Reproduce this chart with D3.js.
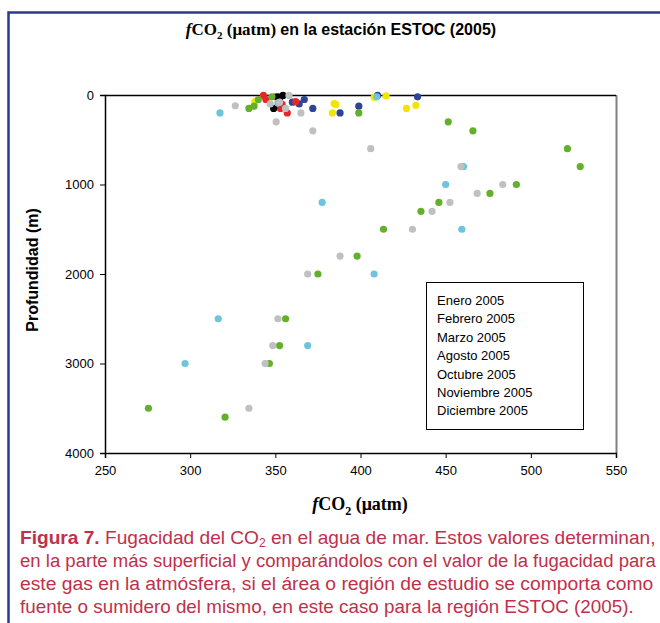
<!DOCTYPE html>
<html>
<head>
<meta charset="utf-8">
<script src="https://cdn.jsdelivr.net/npm/d3@7"></script>
<style>
  body { margin: 0; background: #fff; }
  svg { display: block; }
</style>
</head>
<body>
<script>
var width = 660,
    height = 623;

// months (legend order)
var months = ["Enero 2005", "Febrero 2005", "Marzo 2005", "Agosto 2005", "Octubre 2005", "Noviembre 2005", "Diciembre 2005"];
var colors = ["#2e4597", "#e8262a", "#f4e500", "#000000", "#6cc5dd", "#63b02b", "#c0c0c0"];

// fCO2 (uatm) and depth (m) read per month
var eneroCO2 = [410, 433.5, 367, 360, 364, 372, 388, 399];
var eneroDepth = [5, 20, 50, 80, 100, 150, 200, 125];
var febreroCO2 = [343, 344.5, 350, 362, 354, 353, 357];
var febreroDepth = [5, 50, 20, 75, 105, 150, 200];
var marzoCO2 = [338, 384.5, 385.5, 383.5, 408, 415, 427, 432.5];
var marzoDepth = [75, 95, 105, 200, 25, 10, 150, 115];
var agostoCO2 = [354.5, 351.5, 352.5, 349];
var agostoDepth = [5, 20, 50, 150];
var octubreCO2 = [409.5, 351.5, 317.5, 460.5, 450, 377.5, 459.5, 408, 316.5, 369, 297];
var octubreDepth = [20, 90, 200, 800, 1000, 1200, 1500, 2000, 2500, 2800, 3000];
var noviembreCO2 = [348, 340, 337.5, 334.5, 399, 451.5, 466, 521.5, 529, 491.5, 476, 446, 435.5, 413.5, 398, 375, 356, 352.5, 346.5, 275.5, 320.5];
var noviembreDepth = [20, 50, 125, 150, 200, 300, 400, 600, 800, 1000, 1100, 1200, 1300, 1500, 1800, 2000, 2500, 2800, 3000, 3500, 3600];
var diciembreCO2 = [358, 347, 352.5, 356, 365, 326.5, 350.5, 372, 406, 459, 483.5, 468.5, 452.5, 442, 430.5, 388, 369, 351.5, 348.5, 344, 334.5];
var diciembreDepth = [5, 100, 80, 150, 200, 120, 300, 400, 600, 800, 1000, 1100, 1200, 1300, 1500, 1800, 2000, 2500, 2800, 3000, 3500];

var xTicks = [250, 300, 350, 400, 450, 500, 550];
var yTicks = [0, 1000, 2000, 3000, 4000];

var captionLines = [
  "en la parte más superficial y comparándolos con el valor de la fugacidad para",
  "este gas en la atmósfera, si el área o región de estudio se comporta como",
  "fuente o sumidero del mismo, en este caso para la región ESTOC (2005)."
];

var co2 = [eneroCO2, febreroCO2, marzoCO2, agostoCO2, octubreCO2, noviembreCO2, diciembreCO2];
var depth = [eneroDepth, febreroDepth, marzoDepth, agostoDepth, octubreDepth, noviembreDepth, diciembreDepth];

var series = months.map(function(m, i) {
  return { name: m, color: colors[i], points: co2[i].map(function(v, j) { return { x: v, y: depth[i][j] }; }) };
});

var svg = d3.select("body").append("svg").attr("width", width).attr("height", height);

var sans = "'Liberation Sans', Arial, sans-serif",
    serif = "'Liberation Serif', 'Times New Roman', serif";

// outer frame
svg.append("path")
    .attr("d", "M8.5," + height + "V12.5H" + width)
    .attr("fill", "none")
    .attr("stroke", "#2b3a8e")
    .attr("stroke-width", 2.5);

var x = d3.scaleLinear().domain([250, 550]).range([105, 616]);
var y = d3.scaleLinear().domain([0, 4000]).range([95, 453]);

// title
var title = svg.append("text")
    .attr("x", 341).attr("y", 35)
    .attr("text-anchor", "middle")
    .attr("font-weight", "bold")
    .attr("font-size", 16);
title.append("tspan").attr("font-family", serif).attr("font-style", "italic").attr("font-size", 17).text("f");
title.append("tspan").attr("font-family", serif).attr("font-size", 17).text("CO");
title.append("tspan").attr("font-family", serif).attr("font-size", 11).attr("dy", 4).text("2");
title.append("tspan").attr("font-family", serif).attr("font-size", 17).attr("dy", -4).text(" (μatm) ");
title.append("tspan").attr("font-family", sans).text("en la estación ESTOC (2005)");

// plot frame: right border grey, top black
svg.append("line")
    .attr("x1", x(550) + 0.5).attr("x2", x(550) + 0.5)
    .attr("y1", y(0)).attr("y2", y(4000))
    .attr("stroke", "#808080").attr("stroke-width", 2);
svg.append("line")
    .attr("x1", x(250)).attr("x2", x(550))
    .attr("y1", y(0) + 0.5).attr("y2", y(0) + 0.5)
    .attr("stroke", "#000").attr("stroke-width", 1.5);

// axes
var xAxis = svg.append("g")
    .attr("transform", "translate(0," + y(4000) + ")")
    .call(d3.axisBottom(x).tickValues(xTicks).tickSize(5).tickPadding(8));
var yAxis = svg.append("g")
    .attr("transform", "translate(" + x(250) + ",0)")
    .call(d3.axisLeft(y).tickValues(yTicks).tickSize(5).tickPadding(6).tickFormat(d3.format("d")));

[xAxis, yAxis].forEach(function(g) {
  g.select(".domain").attr("stroke", "#000").attr("stroke-width", 1.5);
  g.selectAll(".tick line").attr("stroke", "#000");
  g.selectAll("text").attr("font-family", sans).attr("font-size", 13).attr("fill", "#000");
});

// legend box (text only)
svg.append("rect")
    .attr("x", 426.5).attr("y", 282.5)
    .attr("width", 157).attr("height", 147)
    .attr("fill", "#fff").attr("stroke", "#000");
svg.append("g").selectAll("text")
    .data(series)
  .enter().append("text")
    .attr("x", 437)
    .attr("y", function(d, i) { return 305 + i * 18.4; })
    .attr("font-family", sans)
    .attr("font-size", 13)
    .text(function(d) { return d.name; });

// points
svg.append("g").selectAll("g")
    .data(series)
  .enter().append("g")
    .attr("fill", function(d) { return d.color; })
    .selectAll("circle")
    .data(function(d) { return d.points; })
  .enter().append("circle")
    .attr("cx", function(d) { return x(d.x); })
    .attr("cy", function(d) { return y(d.y); })
    .attr("r", 3.6);

// axis titles
svg.append("text")
    .attr("transform", "translate(38,270) rotate(-90)")
    .attr("text-anchor", "middle")
    .attr("font-family", sans)
    .attr("font-weight", "bold")
    .attr("font-size", 16)
    .text("Profundidad (m)");

var xl = svg.append("text")
    .attr("x", 360).attr("y", 510)
    .attr("text-anchor", "middle")
    .attr("font-family", serif)
    .attr("font-weight", "bold")
    .attr("font-size", 18);
xl.append("tspan").attr("font-style", "italic").text("f");
xl.append("tspan").text("CO");
xl.append("tspan").attr("font-size", 12).attr("dy", 5).text("2");
xl.append("tspan").attr("dy", -5).text(" (μatm)");

// caption, squeezed horizontally to the reference line widths
var capFont = "'Liberation Sans Narrow', 'Arial Narrow', " + sans,
    capColor = "#c0304a";

function squeeze(sel, ypos, target) {
  var w = sel.node().getComputedTextLength();
  sel.attr("transform", "translate(20," + ypos + ") scale(" + (target / w) + ",1)");
}

var cap1 = svg.append("text")
    .attr("font-family", capFont)
    .attr("font-size", 19)
    .attr("fill", capColor);
cap1.append("tspan").attr("font-weight", "bold").text("Figura 7.");
cap1.append("tspan").text(" Fugacidad del CO");
cap1.append("tspan").attr("font-size", 12).attr("dy", 3).text("2");
cap1.append("tspan").attr("dy", -3).text(" en el agua de mar. Estos valores determinan,");
squeeze(cap1, 544, 636);

var capWidths = [636, 634, 614];
svg.append("g").selectAll("text")
    .data(captionLines)
  .enter().append("text")
    .attr("font-family", capFont)
    .attr("font-size", 19)
    .attr("fill", capColor)
    .text(function(d) { return d; })
    .each(function(d, i) { squeeze(d3.select(this), 567 + i * 23, capWidths[i]); });
</script>
</body>
</html>
